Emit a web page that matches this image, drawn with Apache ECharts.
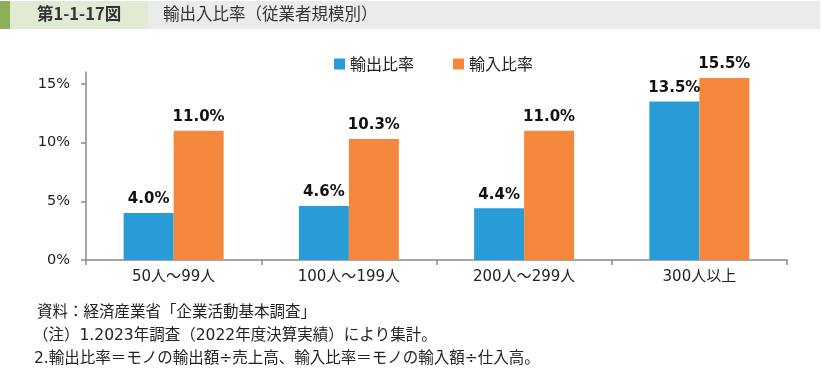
<!DOCTYPE html>
<html>
<head>
<meta charset="utf-8">
<script src="https://cdn.jsdelivr.net/npm/echarts@6/dist/echarts.min.js"></script>
<style>
html,body{margin:0;padding:0;background:#fff;}
#chart{width:821px;height:370px;}
</style>
</head>
<body>
<div id="chart"></div>
<script>
var categories = ['50人～99人', '100人～199人', '200人～299人', '300人以上'];
var exportRatio = [4.0, 4.6, 4.4, 13.5];
var importRatio = [11.0, 10.3, 11.0, 15.5];
var seriesNames = ['輸出比率', '輸入比率'];
var figNo = '第1-1-17図';
var figTitle = '輸出入比率（従業者規模別）';
var notes = [
  '資料：経済産業省「企業活動基本調査」',
  '（注）1.2023年調査（2022年度決算実績）により集計。',
  '2.輸出比率＝モノの輸出額÷売上高、輸入比率＝モノの輸入額÷仕入高。'
];

var latin = '"DejaVu Sans", "Noto Sans CJK JP", sans-serif';
var cjk = '"Noto Sans CJK JP", sans-serif';

var chart = echarts.init(document.getElementById('chart'), null, {renderer: 'canvas'});
var labelOpt = {
  show: true,
  position: 'top',
  distance: 6,
  fontFamily: latin,
  fontWeight: 'bold',
  fontSize: 15,
  color: '#111',
  formatter: function (p) { return p.value.toFixed(1) + '%'; }
};
chart.setOption({
  animation: false,
  backgroundColor: '#fff',
  legend: {
    left: 329,
    top: 51,
    itemWidth: 11,
    itemHeight: 11,
    itemGap: 39,
    icon: 'rect',
    textStyle: {fontFamily: cjk, fontSize: 16, color: '#222'},
    data: seriesNames
  },
  grid: {left: 86, right: 34, top: 72, bottom: 110, containLabel: false},
  xAxis: {
    type: 'category',
    data: categories,
    axisLine: {lineStyle: {color: '#8a8a8a', width: 1.5}},
    axisTick: {show: true, length: 5, alignWithLabel: false, lineStyle: {color: '#8a8a8a', width: 1.5}},
    axisLabel: {fontFamily: latin, fontSize: 15, color: '#222', margin: 10}
  },
  yAxis: {
    type: 'value',
    min: 0,
    max: 16,
    interval: 5,
    splitLine: {show: false},
    axisLine: {show: true, lineStyle: {color: '#8a8a8a', width: 1.5}},
    axisTick: {show: true, length: 5, lineStyle: {color: '#8a8a8a', width: 1.5}},
    axisLabel: {fontFamily: latin, fontSize: 14.5, color: '#222', margin: 16,
      formatter: function (v) { return v + '%'; }}
  },
  series: [
    {name: seriesNames[0], type: 'bar', data: exportRatio, barWidth: 50, barGap: '0%',
     itemStyle: {color: '#279cd6'}, label: labelOpt},
    {name: seriesNames[1], type: 'bar', data: importRatio, barWidth: 50,
     itemStyle: {color: '#f5873d'}, label: labelOpt}
  ],
  graphic: [
    {type: 'rect', shape: {x: 0, y: 1, width: 10, height: 28}, style: {fill: '#8cb05a'}},
    {type: 'rect', shape: {x: 10, y: 1, width: 138, height: 28}, style: {fill: '#e1ead2'}},
    {type: 'rect', shape: {x: 148, y: 1, width: 672, height: 28}, style: {fill: '#ebebeb'}},
    {type: 'text', left: 37, top: 5, style: {text: figNo, fontFamily: cjk, fontSize: 16.5, fontWeight: 'bold', fill: '#333'}},
    {type: 'text', left: 163, top: 5, style: {text: figTitle, fontFamily: cjk, fontSize: 16.5, fill: '#333'}},
    {type: 'text', left: 37, top: 305, style: {text: notes[0], fontFamily: latin, fontSize: 15.5, fill: '#222'}},
    {type: 'text', left: 33, top: 328, style: {text: notes[1], fontFamily: latin, fontSize: 15.5, fill: '#222'}},
    {type: 'text', left: 34, top: 351, style: {text: notes[2], fontFamily: latin, fontSize: 15.5, fill: '#222'}}
  ]
});
</script>
</body>
</html>
